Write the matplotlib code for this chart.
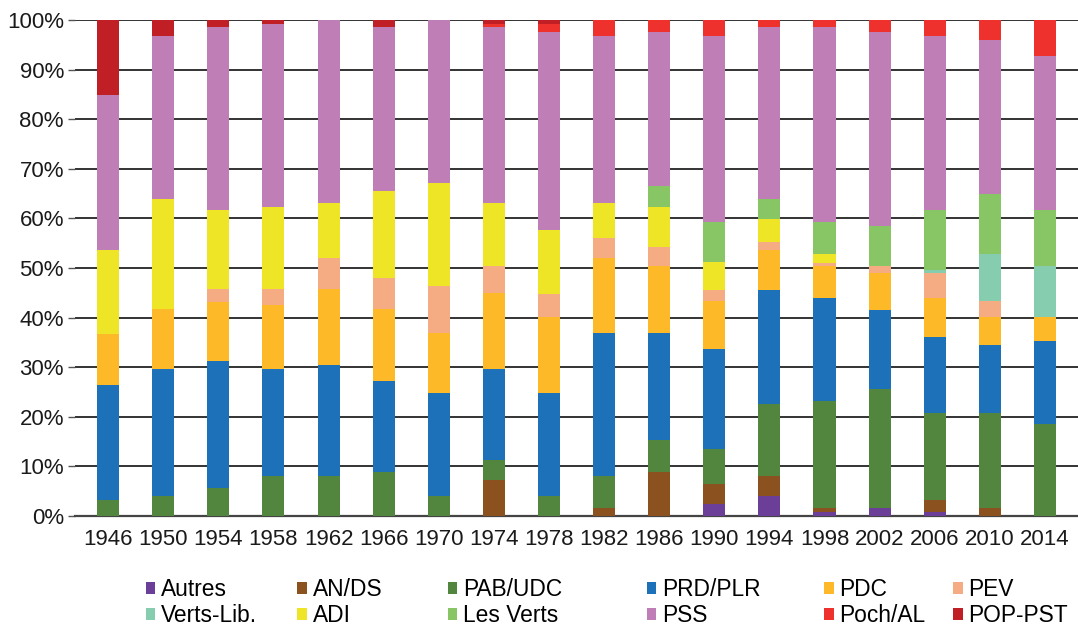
import matplotlib.pyplot as plt
import numpy as np

plt.rcParams['font.family'] = ['Liberation Sans', 'DejaVu Sans']

years = [1946, 1950, 1954, 1958, 1962, 1966, 1970, 1974, 1978,
         1982, 1986, 1990, 1994, 1998, 2002, 2006, 2010, 2014]

# part des sièges par parti (%), de bas en haut dans chaque colonne
autres    = [0, 0, 0, 0, 0, 0, 0, 0, 0, 0, 0, 2.4, 4.0, 0.9, 1.7, 0.9, 0, 0]
an_ds     = [0, 0, 0, 0, 0, 0, 0, 7.3, 0, 1.7, 8.9, 4.1, 4.1, 0.8, 0, 2.3, 1.7, 0]
pab_udc   = [3.2, 4.0, 5.6, 8.1, 8.1, 8.9, 4.0, 4.0, 4.0, 6.4, 6.4, 7.1, 14.4, 21.5, 24.0, 17.6, 19.1, 18.5]
prd_plr   = [23.2, 25.6, 25.6, 21.5, 22.3, 18.3, 20.9, 18.3, 20.9, 28.7, 21.5, 20.0, 23.1, 20.8, 15.9, 15.2, 13.6, 16.7]
pdc       = [10.3, 12.1, 12.0, 12.9, 15.3, 14.5, 11.9, 15.3, 15.2, 15.2, 13.6, 9.7, 8.0, 6.4, 7.3, 8.0, 5.7, 4.9]
pev       = [0, 0, 2.5, 3.2, 6.4, 6.3, 9.6, 5.6, 4.7, 4.0, 3.9, 2.3, 1.6, 0.7, 1.5, 4.9, 3.2, 0]
verts_lib = [0, 0, 0, 0, 0, 0, 0, 0, 0, 0, 0, 0, 0, 0, 0, 0.8, 9.5, 10.3]
adi       = [16.9, 22.3, 15.9, 16.7, 11.1, 17.6, 20.8, 12.7, 12.9, 7.2, 8.1, 5.7, 4.7, 1.7, 0, 0, 0, 0]
les_verts = [0, 0, 0, 0, 0, 0, 0, 0, 0, 0, 4.1, 7.9, 4.1, 6.4, 8.0, 11.9, 12.1, 11.2]
pss       = [31.3, 32.8, 36.9, 36.9, 36.8, 32.9, 32.8, 35.3, 39.9, 33.6, 31.1, 37.6, 34.5, 39.3, 39.2, 35.2, 31.1, 31.2]
poch_al   = [0, 0, 0, 0, 0, 0, 0, 0.6, 1.6, 3.2, 2.4, 3.2, 1.5, 1.5, 2.4, 3.2, 4.0, 7.2]
pop_pst   = [15.1, 3.2, 1.5, 0.7, 0, 1.5, 0, 0.9, 0.8, 0, 0, 0, 0, 0, 0, 0, 0, 0]

labels = ['Autres', 'AN/DS', 'PAB/UDC', 'PRD/PLR', 'PDC', 'PEV',
          'Verts-Lib.', 'ADI', 'Les Verts', 'PSS', 'Poch/AL', 'POP-PST']
series = [autres, an_ds, pab_udc, prd_plr, pdc, pev,
          verts_lib, adi, les_verts, pss, poch_al, pop_pst]
colors = ['#6b3f98', '#8b5220', '#52863f', '#1c71b8', '#fdb927', '#f6ac82',
          '#86cdb0', '#ede526', '#88c565', '#bf7eb5', '#ef312e', '#c01f26']

fig = plt.figure(figsize=(10.78, 6.26), dpi=100)
ax = fig.add_axes([0.0696, 0.1757, 0.9304, 0.7923])

x = np.arange(len(years))
bottom = np.zeros(len(years))
handles = []
for vals, lab, col in zip(series, labels, colors):
    vals = np.array(vals, dtype=float)
    b = ax.bar(x, vals, width=0.4, bottom=bottom, color=col, linewidth=0,
               label=lab, zorder=3)
    handles.append(b)
    bottom += vals

ax.set_xlim(-0.6, len(years) - 0.4)
ax.set_ylim(0, 100)
ax.set_yticks(range(0, 101, 10))
ax.set_yticklabels([f'{v}%' for v in range(0, 101, 10)])
ax.set_xticks(x)
ax.set_xticklabels([str(y) for y in years])
ax.tick_params(axis='x', length=0, pad=9, labelsize=16, colors='#1a1a1a')
ax.tick_params(axis='y', length=5, width=1, pad=3, labelsize=16,
               color='#555555', labelcolor='#1a1a1a')

ax.grid(axis='y', color='#333333', linewidth=1.4, zorder=0)
for s in ['left', 'right', 'top']:
    ax.spines[s].set_visible(False)
ax.spines['bottom'].set_color('#444444')
ax.spines['bottom'].set_linewidth(1.6)

# légende : six colonnes de deux entrées, placées à la main
col_x = [145.7, 297.3, 447.7, 646.7, 824.3, 953.3]
for i, px in enumerate(col_x):
    fig.legend([handles[i], handles[i + 6]], [labels[i], labels[i + 6]],
               loc='upper left', bbox_to_anchor=(px / 1078, 1 - 578 / 626),
               frameon=False, fontsize=16.4, handlelength=0.42,
               handleheight=0.42, handletextpad=0.25, borderpad=0,
               borderaxespad=0, labelspacing=0.12)

fig.savefig('out.png', dpi=100)
